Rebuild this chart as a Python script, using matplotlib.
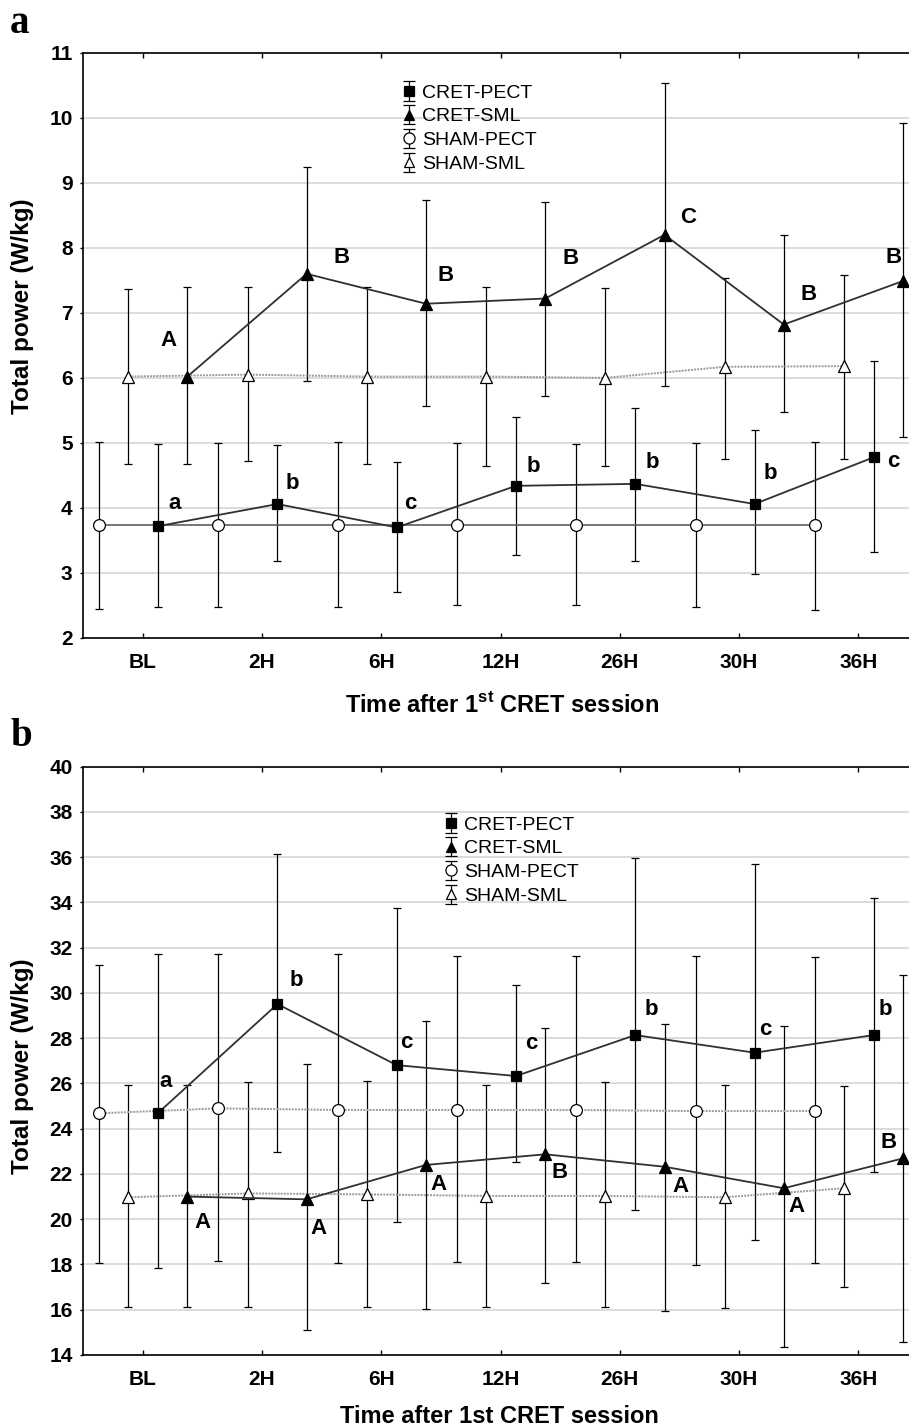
import numpy as np
import matplotlib
matplotlib.use("Agg")
import matplotlib.pyplot as plt

plt.rcParams['font.family'] = ['Liberation Sans', 'DejaVu Sans']
plt.rcParams['mathtext.fontset'] = 'custom'
plt.rcParams['mathtext.rm'] = 'Liberation Sans:bold'
plt.rcParams['mathtext.bf'] = 'Liberation Sans:bold'

# ---------------- data ----------------
categories = ['BL', '2H', '6H', '12H', '26H', '30H', '36H']
series_names = ['CRET-PECT', 'CRET-SML', 'SHAM-PECT', 'SHAM-SML']

# panel a
a_cret_pect_mean = [3.72, 4.06, 3.70, 4.34, 4.37, 4.06, 4.78]
a_cret_pect_lo = [2.48, 3.19, 2.70, 3.28, 3.19, 2.98, 3.33]
a_cret_pect_hi = [4.98, 4.97, 4.71, 5.40, 5.54, 5.20, 6.26]

a_cret_sml_mean = [6.02, 7.60, 7.14, 7.22, 8.20, 6.82, 7.49]
a_cret_sml_lo = [4.67, 5.95, 5.57, 5.72, 5.87, 5.48, 5.09]
a_cret_sml_hi = [7.40, 9.24, 8.74, 8.71, 10.54, 8.19, 9.92]

a_sham_pect_mean = [3.73, 3.73, 3.73, 3.73, 3.73, 3.73, 3.73]
a_sham_pect_lo = [2.45, 2.47, 2.47, 2.50, 2.50, 2.47, 2.43]
a_sham_pect_hi = [5.02, 5.00, 5.02, 5.00, 4.98, 5.00, 5.02]

a_sham_sml_mean = [6.02, 6.05, 6.02, 6.02, 6.00, 6.17, 6.18]
a_sham_sml_lo = [4.67, 4.72, 4.67, 4.65, 4.65, 4.76, 4.76]
a_sham_sml_hi = [7.37, 7.40, 7.39, 7.40, 7.38, 7.53, 7.58]

a_pect_letters = ['a', 'b', 'c', 'b', 'b', 'b', 'c']
a_sml_letters = ['A', 'B', 'B', 'B', 'C', 'B', 'B']

# panel b
b_cret_pect_mean = [24.70, 29.51, 26.81, 26.33, 28.14, 27.36, 28.14]
b_cret_pect_lo = [17.83, 22.98, 19.86, 22.52, 20.41, 19.08, 22.10]
b_cret_pect_hi = [31.72, 36.14, 33.77, 30.35, 35.95, 35.68, 34.21]

b_cret_sml_mean = [21.00, 20.88, 22.40, 22.87, 22.32, 21.37, 22.69]
b_cret_sml_lo = [16.13, 15.10, 16.02, 17.20, 15.96, 14.37, 14.59]
b_cret_sml_hi = [25.93, 26.86, 28.76, 28.44, 28.63, 28.54, 30.79]

b_sham_pect_mean = [24.68, 24.90, 24.83, 24.83, 24.83, 24.78, 24.78]
b_sham_pect_lo = [18.05, 18.17, 18.05, 18.11, 18.11, 17.98, 18.05]
b_sham_pect_hi = [31.23, 31.72, 31.72, 31.65, 31.65, 31.65, 31.60]

b_sham_sml_mean = [20.97, 21.14, 21.10, 21.03, 21.03, 20.97, 21.37]
b_sham_sml_lo = [16.13, 16.13, 16.13, 16.13, 16.13, 16.06, 16.99]
b_sham_sml_hi = [25.93, 26.06, 26.12, 25.93, 26.06, 25.93, 25.89]

b_pect_letters = ['a', 'b', 'c', 'c', 'b', 'c', 'b']
b_sml_letters = ['A', 'A', 'A', 'B', 'A', 'A', 'B']

# ---------------- layout / style ----------------
W, H = 909, 1427
fig = plt.figure(figsize=(W / 100, H / 100), dpi=100)

def fx(px):
    return px / W

def fy(py):
    return 1 - py / H

offsets = {'SHAM-PECT': -0.365, 'SHAM-SML': -0.12, 'CRET-PECT': 0.13, 'CRET-SML': 0.375}
styles = {
    'CRET-PECT': dict(marker='s', ms=7.5, mfc='black', mec='black'),
    'CRET-SML': dict(marker='^', ms=8, mfc='black', mec='black'),
    'SHAM-PECT': dict(marker='o', ms=8.5, mfc='white', mec='black'),
    'SHAM-SML': dict(marker='^', ms=8, mfc='white', mec='black'),
}

a_offsets_pect = [(16, 23), (15, 21), (14, 24), (17, 19), (17, 21), (16, 31), (19, -4)]
a_offsets_sml = [(-19, 36), (35, 16), (20, 28), (25, 40), (24, 17), (25, 30), (-10, 23)]
b_offsets_pect = [(7, 31), (19, 24), (10, 23), (15, 33), (16, 26), (11, 23), (11, 26)]
b_offsets_sml = [(15, -26), (12, -29), (13, -20), (14, -18), (16, -20), (13, -18), (-15, 16)]

x = np.arange(len(categories))


def draw_panel(ax, data, line_styles, ylim, yticks, pect_letters, sml_letters,
               off_pect, off_sml):
    for name in ['SHAM-PECT', 'SHAM-SML', 'CRET-PECT', 'CRET-SML']:
        mean, lo, hi = (np.array(v) for v in data[name])
        ls, lc, lw = line_styles[name]
        st = styles[name]
        ax.errorbar(x + offsets[name], mean, yerr=[mean - lo, hi - mean],
                    ecolor='black', elinewidth=0.9, capsize=3, capthick=1.0,
                    linestyle=ls, color=lc, lw=lw,
                    marker=st['marker'], ms=st['ms'], mfc=st['mfc'],
                    mec=st['mec'], mew=0.9, zorder=3)
    for name, letters, offs in [('CRET-PECT', pect_letters, off_pect),
                                ('CRET-SML', sml_letters, off_sml)]:
        mean = data[name][0]
        for i, (lt, (dx, dy)) in enumerate(zip(letters, offs)):
            ax.annotate(lt, xy=(x[i] + offsets[name], mean[i]), xytext=(dx, dy),
                        textcoords='offset pixels', ha='center', va='center',
                        fontsize=16, fontweight='bold', zorder=5)
    ax.set_xlim(-0.5, len(categories) - 0.5)
    ax.set_ylim(*ylim)
    ax.set_yticks(yticks)
    ax.set_xticks(x)
    ax.set_xticklabels(categories)
    ax.yaxis.grid(True, color='#d6d6d6', lw=1.2)
    ax.set_axisbelow(True)
    for s in ['left', 'bottom', 'top', 'right']:
        ax.spines[s].set_linewidth(1.2)
    ax.tick_params(axis='x', direction='in', length=3.5, width=1, top=True,
                   labelsize=15, pad=11)
    ax.tick_params(axis='y', direction='out', length=2.5, width=1,
                   labelsize=15, pad=5)
    for lab in ax.get_xticklabels() + ax.get_yticklabels():
        lab.set_fontweight('bold')

    # legend proxies (markers + vertical error bars only)
    handles = []
    for name in series_names:
        st = styles[name]
        h = ax.errorbar([np.nan], [np.nan], yerr=[[np.nan], [np.nan]],
                        ecolor='black', elinewidth=0.9, capsize=4, capthick=1.0,
                        linestyle='none', marker=st['marker'], ms=st['ms'] - 0.5,
                        mfc=st['mfc'], mec=st['mec'], mew=0.9)
        handles.append(h)
    return handles


def add_legend(ax, handles, left_px, top_px):
    ax.legend(handles, series_names, loc='upper left', frameon=False,
              bbox_to_anchor=(fx(left_px), fy(top_px)),
              bbox_transform=fig.transFigure,
              borderpad=0, borderaxespad=0, handlelength=0.8, handletextpad=0.3,
              labelspacing=0.32, fontsize=14, numpoints=1)


# ---- panel a
ax_a = fig.add_axes([fx(83), fy(638), fx(835), (638 - 52.7) / H])
data_a = {
    'CRET-PECT': (a_cret_pect_mean, a_cret_pect_lo, a_cret_pect_hi),
    'CRET-SML': (a_cret_sml_mean, a_cret_sml_lo, a_cret_sml_hi),
    'SHAM-PECT': (a_sham_pect_mean, a_sham_pect_lo, a_sham_pect_hi),
    'SHAM-SML': (a_sham_sml_mean, a_sham_sml_lo, a_sham_sml_hi),
}
ls_a = {
    'CRET-PECT': ('-', '#303030', 1.3),
    'CRET-SML': ('-', '#303030', 1.3),
    'SHAM-PECT': ('-', '#606060', 1.2),
    'SHAM-SML': ((0, (1, 0.6)), '#9a9a9a', 1.4),
}
h_a = draw_panel(ax_a, data_a, ls_a, (2, 11), np.arange(2, 12, 1),
                 a_pect_letters, a_sml_letters, a_offsets_pect, a_offsets_sml)
add_legend(ax_a, h_a, 401, 84)

# ---- panel b
ax_b = fig.add_axes([fx(83), fy(1355), fx(835), (1355 - 766.7) / H])
data_b = {
    'CRET-PECT': (b_cret_pect_mean, b_cret_pect_lo, b_cret_pect_hi),
    'CRET-SML': (b_cret_sml_mean, b_cret_sml_lo, b_cret_sml_hi),
    'SHAM-PECT': (b_sham_pect_mean, b_sham_pect_lo, b_sham_pect_hi),
    'SHAM-SML': (b_sham_sml_mean, b_sham_sml_lo, b_sham_sml_hi),
}
ls_b = {
    'CRET-PECT': ('-', '#303030', 1.3),
    'CRET-SML': ('-', '#303030', 1.3),
    'SHAM-PECT': ((0, (1, 0.6)), '#9a9a9a', 1.4),
    'SHAM-SML': ((0, (1, 0.6)), '#9a9a9a', 1.4),
}
h_b = draw_panel(ax_b, data_b, ls_b, (14, 40), np.arange(14, 41, 2),
                 b_pect_letters, b_sml_letters, b_offsets_pect, b_offsets_sml)
add_legend(ax_b, h_b, 443, 816)

# ---- labels
fig.text(fx(23), fy(306.5), 'Total power (W/kg)', rotation=90, ha='center',
         va='center', fontsize=17.5, fontweight='bold')
fig.text(fx(23), fy(1066), 'Total power (W/kg)', rotation=90, ha='center',
         va='center', fontsize=17.5, fontweight='bold')
fig.text(fx(502), fy(712), r'Time after 1$^{\mathrm{st}}$ CRET session',
         ha='center', va='baseline', fontsize=17, fontweight='bold')
fig.text(fx(499), fy(1423), 'Time after 1st CRET session',
         ha='center', va='baseline', fontsize=17, fontweight='bold')

fig.text(fx(10), fy(33), 'a', ha='left', va='baseline', fontsize=28,
         fontweight='bold', family='Liberation Serif')
fig.text(fx(10), fy(746), 'b', ha='left', va='baseline', fontsize=28,
         fontweight='bold', family='Liberation Serif')

fig.savefig('out.png', dpi=100)
